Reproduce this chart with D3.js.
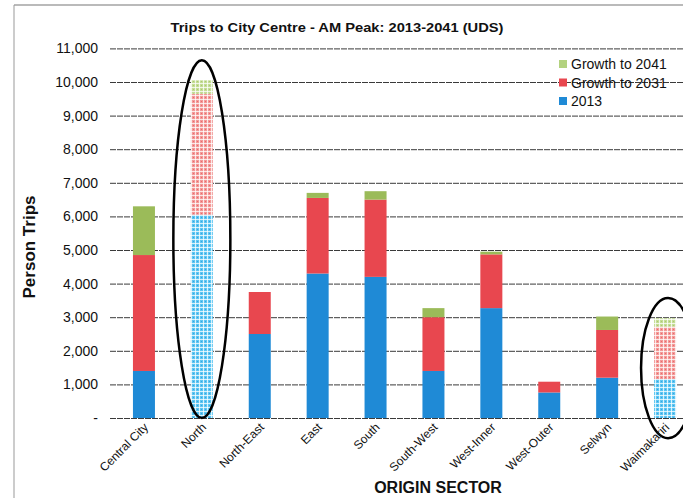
<!DOCTYPE html>
<html><head><meta charset="utf-8">
<script src="https://cdn.jsdelivr.net/npm/d3@7"></script>
<style>html,body{margin:0;padding:0;background:#fff;}svg{display:block;}</style>
</head><body>
<svg id="chart" width="683" height="498"></svg>
<script>
const categories = ["Central City","North","North-East","East","South","South-West","West-Inner","West-Outer","Selwyn","Waimakariri"];
const base2013   = [1400, 6050, 2500, 4300, 4200, 1400, 3270, 760, 1200, 1160];
const growth2031 = [3450, 3600, 1250, 2250, 2300, 1600, 1600, 320, 1420, 1560];
const growth2041 = [1450, 400, 0, 150, 250, 270, 80, 0, 400, 250];
const seriesNames = ["2013","Growth to 2031","Growth to 2041"];
const yTicks = [0,1000,2000,3000,4000,5000,6000,7000,8000,9000,10000,11000];
const highlighted = ["North","Waimakariri"];
const circled = [{cat:"North", top:10650, bottom:0}, {cat:"Waimakariri", top:3570, bottom:-600}];

const svg = d3.select("#chart");
const font = "'Liberation Sans', Arial, sans-serif";
const solid = {"2013":"#1f8ad6","Growth to 2031":"#e8474f","Growth to 2041":"#9bbb59"};
const light = {"2013":"#5cc6f2","Growth to 2031":"#f29a98","Growth to 2041":"#c4dd95"};

// patterns
const defs = svg.append("defs");
seriesNames.forEach((s,i)=>{
  const p = defs.append("pattern").attr("id","pat"+i).attr("patternUnits","userSpaceOnUse")
    .attr("width",4).attr("height",4);
  p.append("rect").attr("width",4).attr("height",4).attr("fill",light[s]);
  p.append("rect").attr("x",3).attr("width",1).attr("height",4).attr("fill","#fff").attr("opacity",0.75);
  p.append("rect").attr("y",3).attr("width",4).attr("height",1).attr("fill","#fff").attr("opacity",0.75);
  p.append("rect").attr("x",1).attr("y",1).attr("width",1).attr("height",1).attr("fill",solid[s]).attr("opacity",0.6);
});

const x = d3.scaleBand().domain(categories).range([115,694]).paddingInner(0.62).paddingOuter(0.31);
const y = d3.scaleLinear().domain([0,11000]).range([418,48.4]);

// frame
svg.append("line").attr("x1",14).attr("x2",683).attr("y1",5).attr("y2",5).attr("stroke","#777").attr("stroke-width",1.2);
svg.append("line").attr("x1",14).attr("x2",14).attr("y1",5).attr("y2",498).attr("stroke","#999").attr("stroke-width",1);

// gridlines
svg.append("g").selectAll("line").data(yTicks).join("line")
  .attr("x1",110).attr("x2",683).attr("y1",d=>y(d)+0.5).attr("y2",d=>y(d)+0.5)
  .attr("stroke","#3a3a3a").attr("stroke-width",1).attr("stroke-dasharray","6,1");

// y tick labels
svg.append("g").selectAll("text").data(yTicks).join("text")
  .attr("x",98).attr("y",d=>y(d)).attr("dy","0.35em").attr("text-anchor","end")
  .attr("font-family",font).attr("font-size",14).attr("fill","#111")
  .text(d=> d===0 ? "-" : d3.format(",")(d));

// stacked bars
const table = categories.map((c,i)=>({cat:c,"2013":base2013[i],"Growth to 2031":growth2031[i],"Growth to 2041":growth2041[i]}));
const stack = d3.stack().keys(seriesNames)(table);
stack.forEach((layer,li)=>{
  svg.append("g").selectAll("rect").data(layer).join("rect")
    .attr("x",d=>x(d.data.cat)).attr("width",x.bandwidth())
    .attr("y",d=>y(d[1])).attr("height",d=>Math.max(0,y(d[0])-y(d[1])))
    .attr("fill",d=> highlighted.includes(d.data.cat) ? `url(#pat${li})` : solid[layer.key]);
});

// ellipses
circled.forEach(c=>{
  const cx = x(c.cat)+x.bandwidth()/2 + (c.cat==="Waimakariri"?3:0);
  const yt = y(c.top), yb = y(c.bottom);
  svg.append("ellipse").attr("cx",cx).attr("cy",(yt+yb)/2).attr("rx",c.cat==="North"?28.5:27).attr("ry",(yb-yt)/2)
    .attr("fill","none").attr("stroke","#000").attr("stroke-width",2.5);
});

// x labels
svg.append("g").selectAll("text").data(categories).join("text")
  .attr("transform",d=>`translate(${x(d)+x.bandwidth()/2+5},428) rotate(-45)`)
  .attr("text-anchor","end").attr("font-family",font).attr("font-size",12).attr("fill","#111")
  .text(d=>d);

// titles
svg.append("text").attr("x",337).attr("y",32).attr("text-anchor","middle")
  .attr("font-family",font).attr("font-weight","bold").attr("font-size",13).attr("fill","#111")
  .attr("textLength",333).attr("lengthAdjust","spacingAndGlyphs")
  .text("Trips to City Centre - AM Peak: 2013-2041 (UDS)");
svg.append("text").attr("transform","translate(35,247) rotate(-90)").attr("text-anchor","middle")
  .attr("font-family",font).attr("font-weight","bold").attr("font-size",17).attr("fill","#111")
  .text("Person Trips");
svg.append("text").attr("x",438).attr("y",493).attr("text-anchor","middle")
  .attr("font-family",font).attr("font-weight","bold").attr("font-size",16).attr("fill","#111")
  .text("ORIGIN SECTOR");

// legend
const legendOrder = ["Growth to 2041","Growth to 2031","2013"];
const lg = svg.append("g").attr("transform","translate(559,64)");
legendOrder.forEach((s,i)=>{
  const gy = i*18.5;
  lg.append("rect").attr("x",0).attr("y",gy-4).attr("width",8).attr("height",8)
    .attr("fill", s==="Growth to 2041" ? "#b3d27f" : solid[s]);
  lg.append("text").attr("x",12).attr("y",gy).attr("dy","0.36em")
    .attr("font-family",font).attr("font-size",14).attr("fill","#111").text(s);
});
</script>
</body></html>
